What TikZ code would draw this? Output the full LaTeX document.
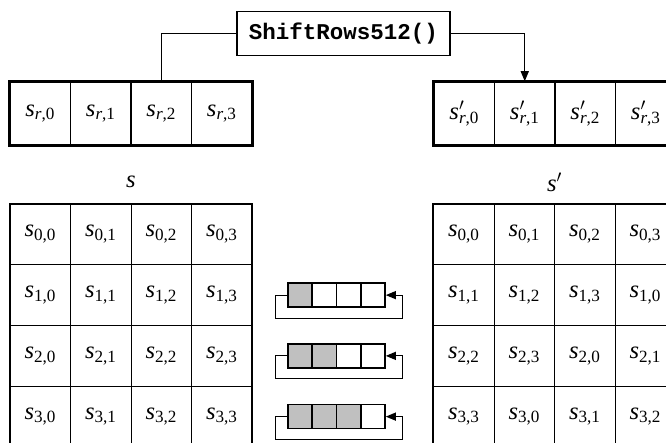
\documentclass[tikz,border=0pt]{standalone}
\usepackage{fontspec}
\setmainfont{Liberation Serif}
\newfontfamily\codefont{Liberation Mono}
\usetikzlibrary{arrows.meta}
\newcommand\cs[2]{\textit{s}\textsubscript{#1,#2}}
\newcommand\csr[1]{\textit{s}\textsubscript{\textit{r},#1}}
\newcommand\csrp[1]{\textit{s}\rlap{$^{\prime}$}\textsubscript{\textit{r},#1}}
\definecolor{shade}{RGB}{192,192,192}
\begin{document}
\begin{tikzpicture}[x=1pt,y=-1pt,
  txt/.style={font=\fontsize{24.5}{28}\selectfont},
  mcell/.style={draw, line width=0.8pt, minimum width=60.5pt, minimum height=60.75pt, inner sep=0pt, txt},
  tcell/.style={draw, line width=1.5pt, minimum width=60.5pt, minimum height=63pt, inner sep=0pt, txt},
  rcell/.style={draw, line width=1.6pt, minimum width=24.25pt, minimum height=24pt, inner sep=0pt},
  shaded/.style={fill=shade},
  outer/.style={line width=2pt},
  touter/.style={line width=2.6pt},
  conn/.style={line width=1.2pt},
  tip/.style={-{Triangle[length=10pt,width=8pt]}},
  fnbox/.style={draw, line width=1.5pt, minimum width=213pt, minimum height=44pt, inner sep=0pt,
    font=\codefont\bfseries\fontsize{22.5}{26}\selectfont}
]
\useasboundingbox (0,0) rectangle (666,443);
\clip (0,0) rectangle (666,443);

% function box
\node[fnbox] (fn) at (343.5,33.5) {ShiftRows512()};

% top rows
\foreach \c in {0,...,3} {
  \node[tcell] (T\c) at ({10+60.5*(\c+0.5)},113.5) {\csr{\c}};
  \node[tcell] (U\c) at ({434+60.5*(\c+0.5)},113.5) {\csrp{\c}};
}
\draw[touter] (T0.south west) rectangle (T3.north east);
\draw[touter] (U0.south west) rectangle (U3.north east);

% connectors
\draw[conn] (fn.west) -| (T2.north);
\draw[conn,tip] (fn.east) -| (U1.north);

% labels
\node[txt] (ls) at (131,182) {\textit{s}};
\node[txt] (lsp) at (554.5,182) {\textit{s}$^{\prime}$};

% matrices
\foreach \r in {0,...,3} {
  \foreach \c in {0,...,3} {
    \pgfmathtruncatemacro\k{mod(\c+\r,4)}
    \node[mcell] (L\r\c) at ({10+60.5*(\c+0.5)},{204+60.75*(\r+0.5)}) {\cs{\r}{\c}};
    \node[mcell] (M\r\c) at ({433.5+60.5*(\c+0.5)},{204+60.75*(\r+0.5)}) {\cs{\r}{\k}};
  }
}
\draw[outer] (L30.south west) -- (L00.north west) -- (L03.north east) -- (L33.south east);
\draw[outer] (M30.south west) -- (M00.north west) -- (M03.north east) -- (M33.south east);

% rotation registers
\foreach \r in {1,2,3} {
  \foreach \c in {0,...,3} {
    \ifnum\c<\r
      \node[rcell,shaded] (R\r\c) at ({288+24.25*(\c+0.5)},{204+60.75*(\r+0.5)}) {};
    \else
      \node[rcell] (R\r\c) at ({288+24.25*(\c+0.5)},{204+60.75*(\r+0.5)}) {};
    \fi
  }
  \draw[conn,tip] (R\r0.west) -- ++(-12,0) -- ++(0,23) -- ++(127,0) -- ++(0,-23) -- (R\r3.east);
}
\end{tikzpicture}
\end{document}
